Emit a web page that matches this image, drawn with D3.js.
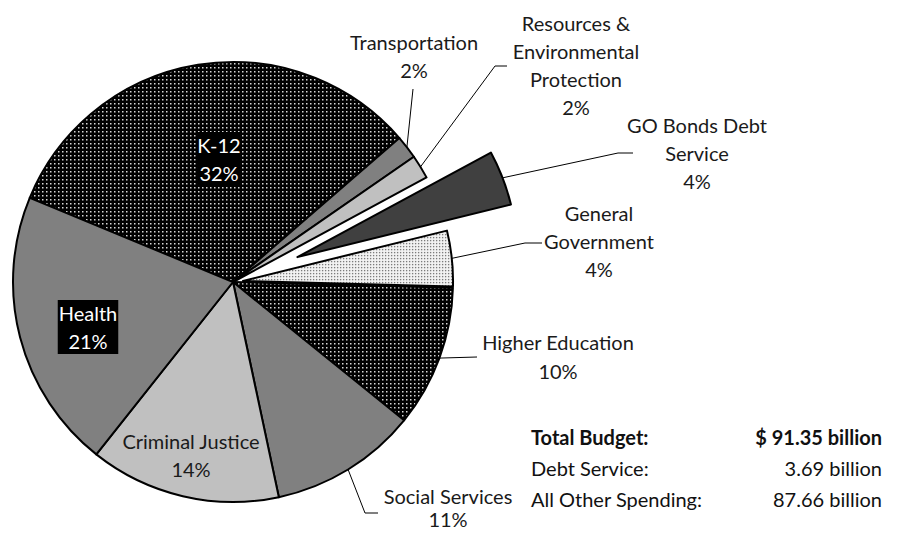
<!DOCTYPE html>
<html>
<head>
<meta charset="utf-8">
<script src="https://cdn.jsdelivr.net/npm/d3@7"></script>
<style>
  html, body { margin: 0; padding: 0; background: #fff; }
  svg { display: block; }
  text { font-family: "Lato", "Open Sans", sans-serif; }
</style>
</head>
<body>
<svg id="chart" width="901" height="533"></svg>
<script>
// General fund spending by program area, $ billions
const categories = [
  "K-12", "Transportation", "Resources & Environmental Protection",
  "GO Bonds Debt Service", "General Government", "Higher Education",
  "Social Services", "Criminal Justice", "Health"
];
const amounts = [29.6, 1.56, 1.6, 3.69, 3.9, 9.5, 9.9, 12.8, 18.8];
const labelLines = [
  ["K-12"], ["Transportation"], ["Resources &", "Environmental", "Protection"],
  ["GO Bonds Debt", "Service"], ["General", "Government"], ["Higher Education"],
  ["Social Services"], ["Criminal Justice"], ["Health"]
];
const debtCategory = "GO Bonds Debt Service";
const summaryLabels = ["Total Budget:", "Debt Service:", "All Other Spending:"];

// ---- styling / layout ----
const W = 901, H = 533;
const cx = 233, cy = 282, R = 220;
const startDeg = -67.5;

const sliceStyle = {
  "K-12":                                 { fill: "url(#darkDots)", explode: 0, r: 1 },
  "Transportation":                       { fill: "#808080", explode: 0, r: 1 },
  "Resources & Environmental Protection": { fill: "#c0c0c0", explode: 0, r: 1 },
  "GO Bonds Debt Service":                { fill: "#404040", explode: 69, r: 1 },
  "General Government":                   { fill: "url(#lightDots)", explode: 10, r: 0.955 },
  "Higher Education":                     { fill: "url(#darkDots)", explode: 0, r: 1 },
  "Social Services":                      { fill: "#808080", explode: 0, r: 1 },
  "Criminal Justice":                     { fill: "#c0c0c0", explode: 0, r: 1 },
  "Health":                               { fill: "#808080", explode: 0, r: 1 }
};

// label anchor (centre of first line); leader = extra points after the arc attachment
const labelLayout = {
  "K-12":                                 { x: 219, y: 146, gap: 28, inverse: true },
  "Transportation":                       { x: 414, y: 43, gap: 28, leader: [[413, 89]] },
  "Resources & Environmental Protection": { x: 576, y: 24, gap: 28, leader: [[495, 66], [507, 66]] },
  "GO Bonds Debt Service":                { x: 697, y: 126, gap: 28, leader: [[618, 153], [633, 153]] },
  "General Government":                   { x: 599, y: 214, gap: 28, leader: [[525, 243], [542, 243]] },
  "Higher Education":                     { x: 558, y: 343, gap: 29, leader: [[477, 357]] },
  "Social Services":                      { x: 448, y: 497, gap: 23, leader: [[365, 513], [378, 513]] },
  "Criminal Justice":                     { x: 191, y: 442, gap: 28 },
  "Health":                               { x: 88, y: 314, gap: 28, inverse: true }
};

const svg = d3.select("#chart");
const defs = svg.append("defs");

// black ground with light dots
const pd = defs.append("pattern").attr("id", "darkDots")
  .attr("patternUnits", "userSpaceOnUse").attr("width", 4).attr("height", 4);
pd.append("rect").attr("width", 4).attr("height", 4).attr("fill", "#000");
pd.append("rect").attr("x", 1).attr("y", 1).attr("width", 1.5).attr("height", 1.5).attr("fill", "#d8d8d8");

// white ground with grey dots
const pl = defs.append("pattern").attr("id", "lightDots")
  .attr("patternUnits", "userSpaceOnUse").attr("width", 3).attr("height", 3);
pl.append("rect").attr("width", 3).attr("height", 3).attr("fill", "#f4f4f4");
pl.append("rect").attr("x", 1).attr("y", 1).attr("width", 1.3).attr("height", 1.3).attr("fill", "#707070");

const total = d3.sum(amounts);
const data = categories.map((c, i) => ({ name: c, value: amounts[i], lines: labelLines[i] }));

const a0 = startDeg * Math.PI / 180;
const pie = d3.pie().sort(null).value(d => d.value).startAngle(a0).endAngle(a0 + 2 * Math.PI);
const arcs = pie(data);
const arc = d3.arc().innerRadius(0).outerRadius(d => R * sliceStyle[d.data.name].r);

function offsetOf(d) {
  const e = sliceStyle[d.data.name].explode;
  const m = (d.startAngle + d.endAngle) / 2;
  return [e * Math.sin(m), -e * Math.cos(m)];
}

const g = svg.append("g").attr("transform", `translate(${cx},${cy})`);

g.selectAll("path.slice").data(arcs).join("path")
  .attr("class", "slice")
  .attr("d", arc)
  .attr("transform", d => { const o = offsetOf(d); return `translate(${o[0]},${o[1]})`; })
  .attr("fill", d => sliceStyle[d.data.name].fill)
  .attr("stroke", "#000")
  .attr("stroke-width", 2)
  .attr("stroke-linejoin", "round");

// leader lines: attach to the outer arc at the slice's mid angle
const line = d3.line();
arcs.forEach(d => {
  const lay = labelLayout[d.data.name];
  if (!lay.leader) return;
  const o = offsetOf(d);
  const m = (d.startAngle + d.endAngle) / 2;
  const rr = R * sliceStyle[d.data.name].r;
  const p0 = [cx + o[0] + rr * Math.sin(m), cy + o[1] - rr * Math.cos(m)];
  svg.append("path")
    .attr("d", line([p0, ...lay.leader]))
    .attr("fill", "none").attr("stroke", "#000").attr("stroke-width", 1);
});

const pct = d3.format(".0%");
const labelFont = 20;

arcs.forEach(d => {
  const lay = labelLayout[d.data.name];
  const lines = d.data.lines.concat([pct(d.data.value / total)]);
  const lg = svg.append("g");
  const t = lg.append("text")
    .attr("text-anchor", "middle")
    .attr("font-size", labelFont)
    .attr("fill", lay.inverse ? "#fff" : "#1a1a1a");
  lines.forEach((s, i) => {
    t.append("tspan").attr("x", lay.x).attr("y", lay.y + i * lay.gap).attr("dy", "0.35em").text(s);
  });
  if (lay.inverse) {
    const bb = t.node().getBBox();
    lg.insert("rect", "text")
      .attr("x", bb.x - 1).attr("y", bb.y - 1)
      .attr("width", bb.width + 2).attr("height", bb.height + 2)
      .attr("fill", "#000");
  }
});

// budget summary
const debt = amounts[categories.indexOf(debtCategory)];
const summaryValues = [total, debt, total - debt];
const fmt = d3.format(".2f");
const sx0 = 531, sx1 = 882, sy0 = 438, sGap = 31;
summaryLabels.forEach((lab, i) => {
  const bold = i === 0;
  svg.append("text")
    .attr("x", sx0).attr("y", sy0 + i * sGap).attr("dy", "0.35em")
    .attr("font-size", labelFont).attr("font-weight", bold ? "bold" : "normal")
    .attr("fill", "#111").text(lab);
  svg.append("text")
    .attr("x", sx1).attr("y", sy0 + i * sGap).attr("dy", "0.35em")
    .attr("text-anchor", "end")
    .attr("font-size", labelFont).attr("font-weight", bold ? "bold" : "normal")
    .attr("fill", "#111").text((bold ? "$ " : "") + fmt(summaryValues[i]) + " billion");
});
</script>
</body>
</html>
